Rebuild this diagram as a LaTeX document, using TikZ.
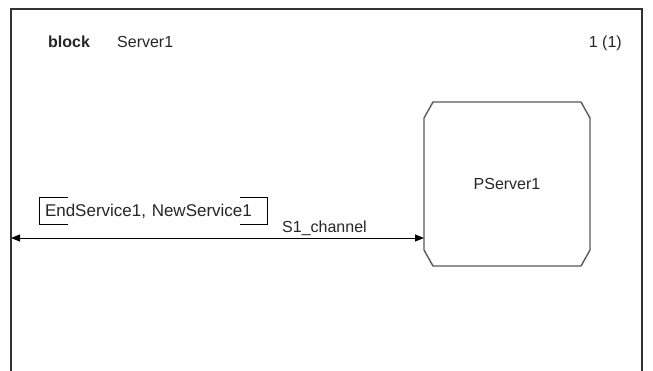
\documentclass[tikz,border=0pt]{standalone}
\usepackage{fontspec}
\setmainfont{Liberation Sans}
\usetikzlibrary{arrows.meta}

\tikzset{
  label text/.style={inner sep=0pt,font=\fontsize{16}{19}\selectfont,text=black!85},
  process box/.style={rectangle,inner sep=0pt,outer sep=0pt,minimum width=166pt,minimum height=164pt,
    font=\fontsize{16}{19}\selectfont,text=black!85},
  process line/.style={draw=black!65,line width=1.4pt,line join=round},
  channel/.style={line width=1pt,{Triangle[length=9pt,width=7pt]}-{Triangle[length=9pt,width=7pt]}},
  bracket/.style={line width=0.9pt}
}

\begin{document}
\begin{tikzpicture}[x=1pt,y=-1pt]
\useasboundingbox (0,0) rectangle (653,370);
\clip (0,0) rectangle (653,370);
\fill[white] (0,0) rectangle (653,370);
\draw[line width=1.6pt,black!80] (11,380) -- (11,9) -- (642,9) -- (642,380);
\node[label text,anchor=base west,font=\fontsize{16}{19}\selectfont\bfseries] (kw) at (48,47.5) {block};
\node[label text,anchor=base west] (name) at (117,47.5) {Server1};
\node[label text,anchor=base east] (page) at (622,47.5) {1 (1)};
% process with cut corners
\node[process box] (pserver) at (507,184) {PServer1};
\draw[process line] ([xshift=9pt]pserver.north west) -- ([xshift=-9pt]pserver.north east)
  -- ([yshift=-16pt]pserver.north east) -- ([yshift=16pt]pserver.south east)
  -- ([xshift=-9pt]pserver.south east) -- ([xshift=9pt]pserver.south west)
  -- ([yshift=16pt]pserver.south west) -- ([yshift=-16pt]pserver.north west) -- cycle;
\coordinate (env) at (11,238);
\draw[channel] (env) -- (env -| pserver.west);
\node[label text,anchor=base west] (chname) at (282,232) {S1\_channel};
\node[label text,font=\fontsize{17}{20}\selectfont,text width=217pt,align=left,inner xsep=5pt,minimum height=26pt] (sigs) at (153.5,211) {EndService1, NewService1};
\draw[bracket] ([xshift=28pt]sigs.north west) -- (sigs.north west) -- (sigs.south west) -- ([xshift=28pt]sigs.south west);
\draw[bracket] ([xshift=-27pt]sigs.north east) -- (sigs.north east) -- (sigs.south east) -- ([xshift=-27pt]sigs.south east);
\end{tikzpicture}
\end{document}
